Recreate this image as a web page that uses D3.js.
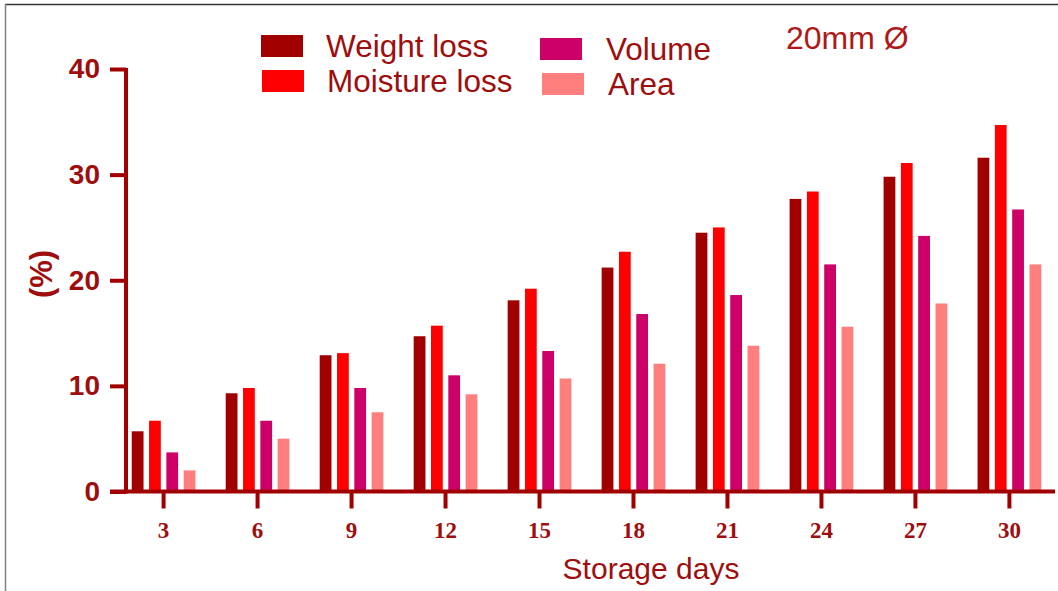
<!DOCTYPE html>
<html lang="en">
<head>
    <meta charset="UTF-8">
    <title>Storage days - 20mm</title>
    <script src="https://cdn.jsdelivr.net/npm/d3@7"></script>
    <style>
        body { margin: 0; background: #fff; }
        text { font-family: 'Liberation Sans', Arial, sans-serif; }
    </style>
</head>
<body>
<script>
    // values
    const days = [3, 6, 9, 12, 15, 18, 21, 24, 27, 30];
    const seriesNames = ["Weight loss", "Moisture loss", "Volume", "Area"];
    const seriesColors = ["#a00000", "#ff0000", "#cc0066", "#ff7f7f"];
    const weightLoss   = [5.7, 9.3, 12.9, 14.7, 18.1, 21.2, 24.5, 27.7, 29.8, 31.6];
    const moistureLoss = [6.7, 9.8, 13.1, 15.7, 19.2, 22.7, 25.0, 28.4, 31.1, 34.7];
    const volume       = [3.7, 6.7, 9.8, 11.0, 13.3, 16.8, 18.6, 21.5, 24.2, 26.7];
    const area         = [2.0, 5.0, 7.5, 9.2, 10.7, 12.1, 13.8, 15.6, 17.8, 21.5];
    const yTicks = [0, 10, 20, 30, 40];

    const seriesValues = [weightLoss, moistureLoss, volume, area];
    const rows = days.map((d, i) => ({
        day: d,
        vals: seriesNames.map((s, j) => ({ key: s, value: seriesValues[j][i], color: seriesColors[j] }))
    }));

    const W = 1058, H = 591;
    const axisColor = "#a00000";
    const textColor = "#9e0e0e";

    const svg = d3.select("body").append("svg").attr("width", W).attr("height", H);

    // picture frame
    svg.append("line").attr("x1", 5).attr("x2", W).attr("y1", 4.5).attr("y2", 4.5)
        .attr("stroke", "#333").attr("stroke-width", 1.5);
    svg.append("line").attr("x1", 5.5).attr("x2", 5.5).attr("y1", 4).attr("y2", H)
        .attr("stroke", "#808080").attr("stroke-width", 1.5);

    const y = d3.scaleLinear().domain([0, 40]).range([491.5, 69]);
    const x0 = d3.scaleBand().domain(days).range([126, 1047]).paddingInner(0.3).paddingOuter(0.05);
    const x1 = d3.scaleBand().domain(seriesNames).range([0, x0.bandwidth()]).paddingInner(0.32).paddingOuter(0.06);

    // bars
    svg.append("g").selectAll("g")
        .data(rows)
        .join("g")
        .attr("transform", d => `translate(${x0(d.day)},0)`)
        .selectAll("rect")
        .data(d => d.vals)
        .join("rect")
        .attr("x", d => x1(d.key))
        .attr("width", x1.bandwidth())
        .attr("y", d => y(d.value))
        .attr("height", d => y(0) - y(d.value))
        .attr("fill", d => d.color);

    // y axis
    const yAxis = svg.append("g")
        .attr("transform", "translate(126,0)")
        .call(d3.axisLeft(y).tickValues(yTicks).tickSize(16).tickPadding(10).tickSizeOuter(0));
    yAxis.select(".domain").attr("stroke", axisColor).attr("stroke-width", 4)
        .attr("d", `M0,${y(40) - 1}V${y(0) + 2}`);
    yAxis.selectAll(".tick line").attr("stroke", axisColor).attr("stroke-width", 4);
    yAxis.selectAll(".tick text")
        .attr("fill", textColor)
        .style("font-size", "28px")
        .style("font-weight", "bold")
        .style("font-family", "'Liberation Sans', Arial, sans-serif");

    // x axis
    const xAxis = svg.append("g")
        .attr("transform", `translate(0,${y(0)})`)
        .call(d3.axisBottom(x0).tickSize(17).tickPadding(13).tickSizeOuter(0));
    xAxis.select(".domain").attr("stroke", axisColor).attr("stroke-width", 4)
        .attr("d", "M110,0H1055");
    xAxis.selectAll(".tick line").attr("stroke", axisColor).attr("stroke-width", 4);
    xAxis.selectAll(".tick text")
        .attr("fill", textColor)
        .style("font-size", "23px")
        .style("font-weight", "bold")
        .style("font-family", "'Liberation Serif', 'Times New Roman', serif");

    // axis titles
    svg.append("text")
        .attr("transform", "translate(52,274) rotate(-90)")
        .attr("text-anchor", "middle")
        .attr("fill", textColor)
        .style("font-size", "31px")
        .style("font-weight", "bold")
        .text("(%)");

    svg.append("text")
        .attr("x", 651).attr("y", 579)
        .attr("text-anchor", "middle")
        .attr("fill", textColor)
        .style("font-size", "30px")
        .text("Storage days");

    // legend
    const legendPos = [[261, 35], [262, 70], [540, 38], [542, 73]];
    const legend = svg.append("g").selectAll("g")
        .data(seriesNames)
        .join("g")
        .attr("transform", (d, i) => `translate(${legendPos[i][0]},${legendPos[i][1]})`);
    legend.append("rect")
        .attr("width", 42).attr("height", 22)
        .attr("fill", (d, i) => seriesColors[i]);
    legend.append("text")
        .attr("x", (d, i) => i < 2 ? 65 : 66)
        .attr("y", 11)
        .attr("dy", "0.36em")
        .attr("fill", textColor)
        .style("font-size", "31.5px")
        .text(d => d);

    svg.append("text")
        .attr("x", 786).attr("y", 49)
        .attr("fill", "#b01818")
        .style("font-size", "32px")
        .text("20mm Ø");
</script>
</body>
</html>
